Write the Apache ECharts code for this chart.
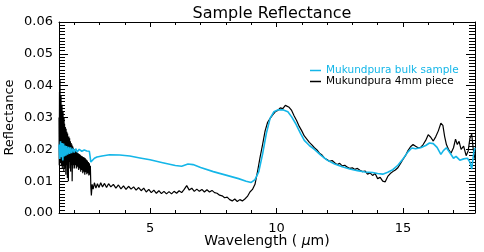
<!DOCTYPE html>
<html>
<head>
    <meta charset="utf-8">
    <title>Sample Reflectance</title>
    <script src="https://cdn.jsdelivr.net/npm/echarts/dist/echarts.min.js"></script>
</head>
<body style="margin:0">
    <div id="main" style="width: 484px;height:252px;"></div>
    <script>
        // wavelength (um) / reflectance
        var bulkX = [1.40, 1.43, 1.46, 1.49, 1.52, 1.55, 1.58, 1.61, 1.64, 1.67, 1.70, 1.74, 1.78, 1.82, 1.86, 1.90, 1.95, 2.00, 2.06, 2.12,
            2.20, 2.30, 2.40, 2.50, 2.60, 2.64, 2.66, 2.70, 2.80, 2.90, 3.10, 3.40, 3.80, 4.20, 4.60, 5.00, 5.50, 6.00, 6.25, 6.50,
            6.70, 7.00, 7.50, 8.00, 8.50, 8.80, 9.00, 9.15, 9.30, 9.45, 9.60, 9.75, 9.90, 10.05, 10.25, 10.45, 10.60, 10.75, 10.95, 11.10,
            11.30, 11.50, 11.75, 12.00, 12.30, 12.60, 12.90, 13.20, 13.50, 13.80, 14.00, 14.20, 14.40, 14.60, 14.80, 15.00, 15.20, 15.35, 15.50, 15.70,
            15.90, 16.05, 16.20, 16.35, 16.50, 16.60, 16.72, 16.85, 17.00, 17.10, 17.25, 17.40, 17.55, 17.65, 17.72, 17.80, 17.85];
        var bulkY = [0.0215, 0.0170, 0.0225, 0.0175, 0.0220, 0.0165, 0.0218, 0.0178, 0.0212, 0.0180, 0.0210, 0.0183, 0.0208, 0.0186, 0.0206, 0.0188, 0.0203, 0.0190, 0.0202, 0.0192,
            0.0200, 0.0194, 0.0198, 0.0195, 0.0194, 0.0190, 0.0160, 0.0163, 0.0172, 0.0176, 0.0179, 0.0183, 0.0182, 0.0179, 0.0173, 0.0167, 0.0158, 0.0149, 0.0147, 0.0154,
            0.0152, 0.0143, 0.0130, 0.0119, 0.0108, 0.0100, 0.0096, 0.0105, 0.0130, 0.0185, 0.0250, 0.0298, 0.0318, 0.0324, 0.0324, 0.0318, 0.0302, 0.0282, 0.0250, 0.0228,
            0.0212, 0.0200, 0.0182, 0.0166, 0.0154, 0.0145, 0.0138, 0.0133, 0.0129, 0.0127, 0.0124, 0.0122, 0.0128, 0.0136, 0.0150, 0.0170, 0.0192, 0.0204, 0.0202, 0.0205,
            0.0212, 0.0220, 0.0218, 0.0206, 0.0184, 0.0196, 0.0205, 0.0190, 0.0172, 0.0178, 0.0166, 0.0170, 0.0172, 0.0160, 0.0138, 0.0190, 0.0205];

        var pieceX = [1.40, 1.41, 1.42, 1.43, 1.44, 1.45, 1.46, 1.47, 1.48, 1.49, 1.50, 1.51, 1.52, 1.53, 1.54, 1.55, 1.56, 1.57, 1.58, 1.59,
            1.60, 1.61, 1.62, 1.64, 1.65, 1.67, 1.68, 1.70, 1.71, 1.73, 1.74, 1.76, 1.77, 1.79, 1.80, 1.82, 1.83, 1.85, 1.86, 1.88,
            1.89, 1.91, 1.92, 1.94, 1.95, 1.97, 1.98, 2.00, 2.02, 2.04, 2.06, 2.08, 2.10, 2.12, 2.14, 2.16, 2.18, 2.20, 2.22, 2.24,
            2.26, 2.28, 2.30, 2.32, 2.34, 2.36, 2.38, 2.40, 2.42, 2.44, 2.46, 2.48, 2.50, 2.52, 2.54, 2.56, 2.58, 2.60, 2.62, 2.64,
            2.66, 2.68, 2.71, 2.75, 2.80, 2.86, 2.92, 2.98, 3.05, 3.12, 3.20, 3.28, 3.36, 3.45, 3.55, 3.65, 3.75, 3.85, 3.95,
            4.05, 4.15, 4.25, 4.35, 4.45, 4.55, 4.65, 4.75, 4.85, 4.95, 5.05, 5.15, 5.25, 5.35, 5.45, 5.55, 5.65, 5.75, 5.85, 5.95,
            6.05, 6.15, 6.25, 6.35, 6.45, 6.55, 6.65, 6.75, 6.85, 6.95, 7.05, 7.15, 7.25, 7.35, 7.45, 7.55, 7.65, 7.75, 7.85, 7.95,
            8.05, 8.15, 8.25, 8.35, 8.45, 8.55, 8.65, 8.75, 8.85, 8.95, 9.05, 9.15, 9.25, 9.35, 9.45, 9.55, 9.65, 9.75, 9.85, 9.95,
            10.05, 10.15, 10.25, 10.35, 10.42, 10.50, 10.60, 10.70, 10.80, 10.90, 11.00, 11.10, 11.20, 11.30, 11.40, 11.50, 11.60, 11.70, 11.80, 11.90,
            12.00, 12.10, 12.20, 12.30, 12.40, 12.50, 12.60, 12.70, 12.80, 12.90, 13.00, 13.10, 13.20, 13.30, 13.40, 13.50, 13.60, 13.70, 13.80, 13.90,
            14.00, 14.10, 14.20, 14.30, 14.40, 14.50, 14.60, 14.70, 14.80, 14.90, 15.00, 15.10, 15.20, 15.30, 15.40, 15.50, 15.60, 15.70, 15.80, 15.90,
            16.00, 16.10, 16.20, 16.30, 16.40, 16.50, 16.58, 16.65, 16.72, 16.80, 16.90, 17.00, 17.08, 17.15, 17.22, 17.30, 17.40, 17.50, 17.58, 17.65,
            17.72, 17.78, 17.85];
        var pieceY = [0.0300, 0.0150, 0.0380, 0.0170, 0.0420, 0.0160, 0.0350, 0.0190, 0.0370, 0.0150, 0.0330, 0.0170, 0.0340, 0.0140, 0.0310, 0.0180, 0.0320, 0.0150, 0.0290, 0.0130,
            0.0300, 0.0160, 0.0280, 0.0140, 0.0270, 0.0120, 0.0265, 0.0150, 0.0255, 0.0110, 0.0250, 0.0150, 0.0100, 0.0240, 0.0140, 0.0235, 0.0160, 0.0225, 0.0130, 0.0220,
            0.0150, 0.0215, 0.0100, 0.0210, 0.0140, 0.0205, 0.0150, 0.0200, 0.0140, 0.0195, 0.0150, 0.0192, 0.0140, 0.0190, 0.0145, 0.0188, 0.0135, 0.0185, 0.0140, 0.0183,
            0.0130, 0.0180, 0.0135, 0.0178, 0.0125, 0.0176, 0.0130, 0.0174, 0.0120, 0.0172, 0.0128, 0.0168, 0.0122, 0.0165, 0.0125, 0.0160, 0.0118, 0.0156, 0.0120, 0.0148,
            0.0080, 0.0055, 0.0090, 0.0075, 0.0095, 0.0078, 0.0092, 0.0080, 0.0095, 0.0082, 0.0093, 0.0080, 0.0092, 0.0082, 0.0090, 0.0078, 0.0088, 0.0076, 0.0085,
            0.0074, 0.0084, 0.0075, 0.0082, 0.0072, 0.0080, 0.0070, 0.0078, 0.0066, 0.0074, 0.0064, 0.0072, 0.0062, 0.0070, 0.0061, 0.0068, 0.0060, 0.0067, 0.0060, 0.0068,
            0.0062, 0.0070, 0.0064, 0.0074, 0.0086, 0.0072, 0.0078, 0.0068, 0.0075, 0.0068, 0.0074, 0.0066, 0.0073, 0.0066, 0.0071, 0.0064, 0.0062, 0.0056, 0.0054, 0.0048,
            0.0050, 0.0042, 0.0038, 0.0044, 0.0036, 0.0042, 0.0038, 0.0044, 0.0052, 0.0066, 0.0074, 0.0090, 0.0130, 0.0175, 0.0215, 0.0258, 0.0285, 0.0297, 0.0308, 0.0318,
            0.0322, 0.0330, 0.0328, 0.0338, 0.0342, 0.0332, 0.0322, 0.0305, 0.0290, 0.0272, 0.0258, 0.0242, 0.0232, 0.0222, 0.0214, 0.0205, 0.0198, 0.0188, 0.0182, 0.0172,
            0.0168, 0.0162, 0.0165, 0.0158, 0.0152, 0.0156, 0.0148, 0.0150, 0.0144, 0.0140, 0.0142, 0.0137, 0.0140, 0.0134, 0.0130, 0.0132, 0.0122, 0.0126, 0.0118, 0.0124,
            0.0108, 0.0112, 0.0100, 0.0098, 0.0115, 0.0124, 0.0130, 0.0135, 0.0142, 0.0155, 0.0168, 0.0180, 0.0196, 0.0208, 0.0215, 0.0210, 0.0205, 0.0206, 0.0215, 0.0228,
            0.0246, 0.0238, 0.0226, 0.0240, 0.0258, 0.0282, 0.0275, 0.0240, 0.0215, 0.0200, 0.0188, 0.0205, 0.0232, 0.0215, 0.0225, 0.0200, 0.0210, 0.0180, 0.0195, 0.0235,
            0.0248, 0.0200, 0.0170];

        var xMajor = [5, 10, 15];
        var xMinor = [2, 3, 4, 6, 7, 8, 9, 11, 12, 13, 14, 16, 17];

        var cyan = '#14b6e8';
        var font = 'DejaVu Sans';

        function pairs(xs, ys) {
            return xs.map(function (x, i) { return [x, ys[i]]; });
        }

        var chartDom = document.getElementById('main');
        var myChart = echarts.init(chartDom);

        function xAxisDef(pos, ticks, len, main) {
            return {
                type: 'value',
                position: pos,
                min: 1.4,
                max: 17.85,
                splitLine: { show: false },
                axisLine: { show: main, onZero: false, lineStyle: { color: '#000', width: 1 } },
                axisTick: { show: true, inside: true, length: len, customValues: ticks, lineStyle: { color: '#000' } },
                axisLabel: (main && pos === 'bottom') ? {
                    show: true, customValues: xMajor, color: '#000', fontFamily: font, fontSize: 13, margin: 9
                } : { show: false },
                name: (main && pos === 'bottom') ? 'Wavelength ( {i|μ}m)' : '',
                nameLocation: 'middle',
                nameGap: 21,
                nameMoveOverlap: false,
                nameTextStyle: {
                    color: '#000', fontFamily: font, fontSize: 14,
                    rich: { i: { fontStyle: 'italic', fontFamily: font, fontSize: 14, color: '#000' } }
                }
            };
        }

        function yAxisDef(pos) {
            return {
                type: 'value',
                position: pos,
                min: 0,
                max: 0.06,
                interval: 0.01,
                splitLine: { show: false },
                axisLine: { show: true, lineStyle: { color: '#000', width: 1 } },
                axisTick: { show: true, inside: true, length: 9, lineStyle: { color: '#000' } },
                minorTick: { show: true, splitNumber: 10, length: 6, lineStyle: { color: '#000' } },
                axisLabel: pos === 'left' ? {
                    show: true, color: '#000', fontFamily: font, fontSize: 13, margin: 6,
                    formatter: function (v) { return v.toFixed(2); }
                } : { show: false },
                name: pos === 'left' ? 'Reflectance' : '',
                nameLocation: 'middle',
                nameGap: 43,
                nameMoveOverlap: false,
                nameTextStyle: { color: '#000', fontFamily: font, fontSize: 13 }
            };
        }

        var option = {
            animation: false,
            title: {
                text: 'Sample Reflectance',
                left: 267,
                textAlign: 'center',
                top: 1,
                textStyle: { color: '#000', fontFamily: font, fontSize: 16, fontWeight: 'normal' }
            },
            legend: [
                {
                    left: 310, top: 65, padding: 0,
                    itemWidth: 11, itemHeight: 1.5, icon: 'rect',
                    data: [{ name: 'Mukundpura bulk sample', textStyle: { color: cyan } }],
                    textStyle: { fontFamily: font, fontSize: 10.5 }
                },
                {
                    left: 310, top: 76, padding: 0,
                    itemWidth: 11, itemHeight: 1.5, icon: 'rect',
                    data: [{ name: 'Mukundpura 4mm piece', textStyle: { color: '#000' } }],
                    textStyle: { fontFamily: font, fontSize: 10.5 }
                }
            ],
            grid: { left: 59, right: 9, top: 22, bottom: 39, outerBoundsMode: 'none' },
            xAxis: [
                xAxisDef('bottom', xMajor, 5, true),
                xAxisDef('bottom', xMinor, 3, false),
                xAxisDef('top', xMajor, 5, true),
                xAxisDef('top', xMinor, 3, false)
            ],
            yAxis: [yAxisDef('left'), yAxisDef('right')],
            series: [
                {
                    name: 'Mukundpura 4mm piece',
                    type: 'line',
                    data: pairs(pieceX, pieceY),
                    showSymbol: false,
                    symbol: 'none',
                    color: '#000',
                    lineStyle: { color: '#000', width: 1.2 }
                },
                {
                    name: 'Mukundpura bulk sample',
                    type: 'line',
                    data: pairs(bulkX, bulkY),
                    showSymbol: false,
                    symbol: 'none',
                    color: cyan,
                    lineStyle: { color: cyan, width: 1.6 }
                }
            ]
        };

        myChart.setOption(option);
    </script>
</body>
</html>
